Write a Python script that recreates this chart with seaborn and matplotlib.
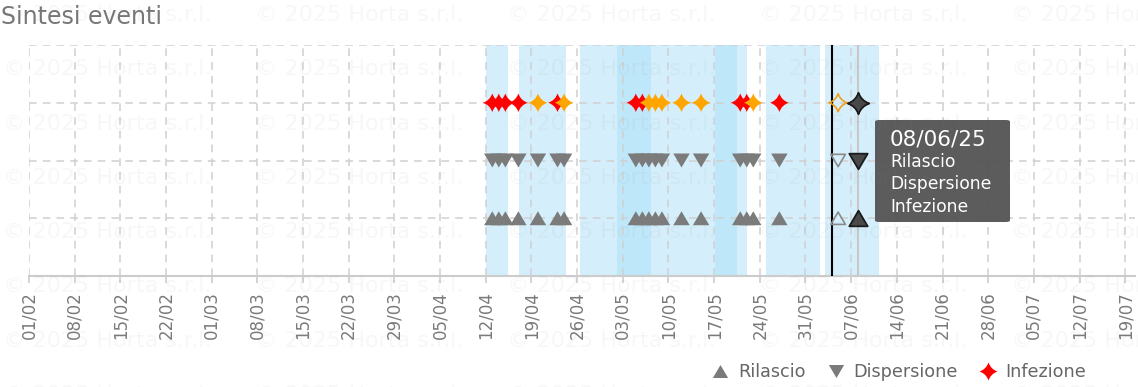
import numpy as np
import pandas as pd
import matplotlib
matplotlib.use("Agg")
import matplotlib.pyplot as plt
import seaborn as sns
from matplotlib.lines import Line2D
from matplotlib.patches import FancyBboxPatch
from matplotlib.path import Path
from matplotlib.markers import MarkerStyle

# ---------------- data ----------------
rows = ["Rilascio", "Dispersione", "Infezione"]
row_pos = [1, 2, 3]

event_dates = ["2025-04-13", "2025-04-14", "2025-04-15", "2025-04-17", "2025-04-20",
               "2025-04-23", "2025-04-24", "2025-05-05", "2025-05-06", "2025-05-07",
               "2025-05-08", "2025-05-09", "2025-05-12", "2025-05-15", "2025-05-21",
               "2025-05-22", "2025-05-23", "2025-05-27"]
infection_level = ["alta", "alta", "alta", "alta", "media", "alta", "media",
                   "alta", "alta", "media", "media", "media", "media", "media",
                   "alta", "alta", "media", "alta"]
forecast_dates = ["2025-06-05"]
selected_dates = ["2025-06-08"]
today_date = "2025-06-04"

risk_starts = ["2025-04-12 00:00", "2025-04-17 02:00", "2025-04-26 11:00", "2025-05-02 01:00",
               "2025-05-17 05:00", "2025-05-24 21:00", "2025-06-02 22:00"]
risk_ends = ["2025-04-15 08:00", "2025-04-24 06:00", "2025-05-07 08:00", "2025-05-22 01:00",
             "2025-05-20 12:00", "2025-06-02 05:00", "2025-06-11 05:00"]

tick_dates = pd.date_range("2025-02-01", "2025-07-19", freq="7D")
tick_labels = [d.strftime("%d/%m") for d in tick_dates]
x_start, x_end = "2025-02-01", "2025-07-20 12:00"

title = "Sintesi eventi"
tooltip_title = "08/06/25"
tooltip_lines = ["Rilascio", "Dispersione", "Infezione"]
watermark = "© 2025 Horta s.r.l."

# ---------------- style ----------------
sns.set_theme(style="white")
plt.rcParams["font.family"] = ["DejaVu Sans"]

W, H = 1138, 387
fig = plt.figure(figsize=(W / 100, H / 100), dpi=100)
ax = fig.add_axes([29 / W, 1 - 276 / H, (1135 - 29) / W, (276 - 45) / H])

# markers
c = 0.25
star_path = Path([(0, 1), (c, c), (1, 0), (c, -c), (0, -1), (-c, -c), (-1, 0), (-c, c), (0, 1), (0, 1)],
                 [Path.MOVETO] + [Path.CURVE3] * 8 + [Path.CLOSEPOLY])
STAR = MarkerStyle(star_path)
TRI_UP = MarkerStyle(Path([(0, 0.85), (-1, -0.85), (1, -0.85), (0, 0.85)],
                          [Path.MOVETO, Path.LINETO, Path.LINETO, Path.CLOSEPOLY]))
TRI_DN = MarkerStyle(Path([(0, -0.85), (-1, 0.85), (1, 0.85), (0, -0.85)],
                          [Path.MOVETO, Path.LINETO, Path.LINETO, Path.CLOSEPOLY]))

GREY = "#7b7b7b"
RED = "#ff0000"
ORANGE = "#ffa500"

# risk bands
for s, e in zip(risk_starts, risk_ends):
    ax.axvspan(pd.Timestamp(s), pd.Timestamp(e), color="#aae1f8", alpha=0.5, lw=0, zorder=0.5)

# events dataframe
ev = pd.DataFrame({"date": pd.to_datetime(event_dates), "level": infection_level})
n = len(ev)
sns.scatterplot(x=ev["date"], y=[row_pos[0]] * n, marker=TRI_UP, s=140, color=GREY,
                edgecolor="none", linewidth=0, ax=ax, zorder=3)
sns.scatterplot(x=ev["date"], y=[row_pos[1]] * n, marker=TRI_DN, s=140, color=GREY,
                edgecolor="none", linewidth=0, ax=ax, zorder=3)
for lvl, col in [("alta", RED), ("media", ORANGE)]:
    sub = ev[ev["level"] == lvl]
    sns.scatterplot(x=sub["date"], y=[row_pos[2]] * len(sub), marker=STAR, s=180, color=col,
                    edgecolor="none", linewidth=0, ax=ax, zorder=3)

# forecast (hollow)
fd = pd.to_datetime(forecast_dates)
sns.scatterplot(x=fd, y=[row_pos[0]] * len(fd), marker=TRI_UP, s=110, facecolor="none",
                edgecolor="#8a8a8a", linewidth=1.2, ax=ax, zorder=3)
sns.scatterplot(x=fd, y=[row_pos[1]] * len(fd), marker=TRI_DN, s=110, facecolor="none",
                edgecolor="#8a8a8a", linewidth=1.2, ax=ax, zorder=3)
sns.scatterplot(x=fd, y=[row_pos[2]] * len(fd), marker=STAR, s=170, facecolor="none",
                edgecolor="#f0a020", linewidth=1.2, ax=ax, zorder=3)

# selected (dark)
sd = pd.to_datetime(selected_dates)
ax.axvline(sd[0], color="#c8c8c8", lw=1.5, zorder=2.55)
sns.scatterplot(x=sd, y=[row_pos[0]] * len(sd), marker=TRI_UP, s=175, facecolor="#484848",
                edgecolor="#1a1a1a", linewidth=1.3, ax=ax, zorder=3)
sns.scatterplot(x=sd, y=[row_pos[1]] * len(sd), marker=TRI_DN, s=175, facecolor="#484848",
                edgecolor="#1a1a1a", linewidth=1.3, ax=ax, zorder=3)
sns.scatterplot(x=sd, y=[row_pos[2]] * len(sd), marker=STAR, s=240, facecolor="#484848",
                edgecolor="#1a1a1a", linewidth=1.3, ax=ax, zorder=3)

# today line
ax.axvline(pd.Timestamp(today_date), color="black", lw=1.5, zorder=2.6)

# axes
ax.set_xlim(pd.Timestamp(x_start), pd.Timestamp(x_end))
ax.set_ylim(0, 4)
ax.set_xticks(tick_dates)
ax.set_xticklabels(tick_labels, rotation=90)
ax.set_yticks([1, 2, 3, 4])
ax.set_yticklabels([])
ax.set_xlabel("")
ax.set_ylabel("")
ax.grid(True, color="#cfcfcf", lw=1.1, linestyle=(0, (5, 4)))
ax.set_axisbelow(False)
for sp in ["top", "right", "left"]:
    ax.spines[sp].set_visible(False)
ax.spines["bottom"].set_color("#cccccc")
ax.spines["bottom"].set_linewidth(1.5)
ax.tick_params(axis="x", length=5, width=1.2, color="#cccccc", pad=6,
               labelsize=12, labelcolor="#7a7a7a", bottom=True)
ax.tick_params(axis="y", length=0)
ax.patch.set_alpha(0)

# title
fig.text(1 / W, 1 - 17 / H, title, fontsize=17, color="#777777", va="center", ha="left")

# tooltip
fig.patches.append(FancyBboxPatch((875 / W, 1 - 222 / H), 135 / W, 102 / H,
                                  boxstyle="round,pad=0,rounding_size=0.004",
                                  transform=fig.transFigure, fc="#555555", ec="none",
                                  alpha=0.96, zorder=10))
fig.text(890 / W, 1 - 139 / H, tooltip_title, fontsize=15.5, color="white", va="center", zorder=11)
for i, t in enumerate(tooltip_lines):
    fig.text(890 / W, 1 - (162 + 22.5 * i) / H, t, fontsize=12.3, color="white", va="center", zorder=11)

# legend
handles = [
    Line2D([], [], ls="none", marker=TRI_UP, ms=11, color=GREY, mec="none"),
    Line2D([], [], ls="none", marker=TRI_DN, ms=11, color=GREY, mec="none"),
    Line2D([], [], ls="none", marker=STAR, ms=13, color=RED, mec="none"),
]
fig.legend(handles, rows, ncol=3, loc="center right", bbox_to_anchor=(1086 / W, 1 - 372 / H),
           frameon=False, fontsize=12.7, labelcolor="#666666", handletextpad=0.5,
           columnspacing=1.2, handlelength=1.0, borderpad=0, borderaxespad=0)

# watermark
for k in range(8):
    for j in range(5):
        fig.text((3 + 252 * j) / W, 1 - (15 + 54.3 * k) / H, watermark, fontsize=16,
                 color="#888888", alpha=0.065, va="center", ha="left", zorder=20)

fig.savefig("out.png", dpi=100)
